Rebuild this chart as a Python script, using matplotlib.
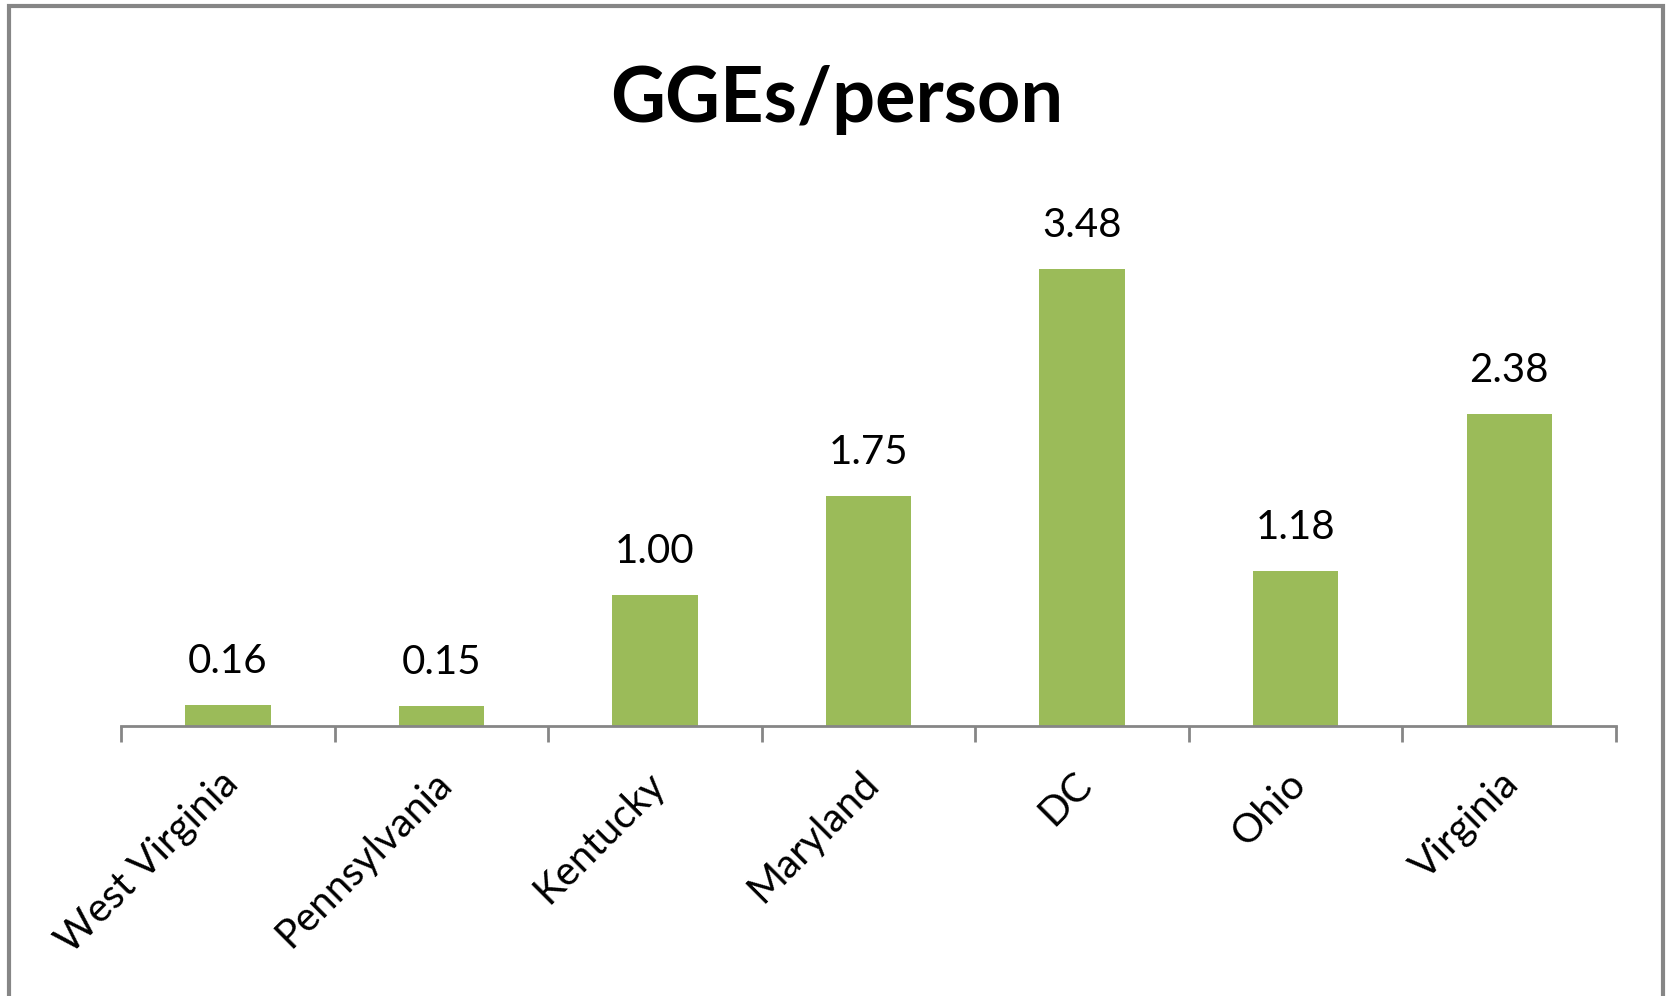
import matplotlib.pyplot as plt
import numpy as np
from matplotlib.patches import Rectangle
import matplotlib.transforms as mtransforms

# values
states = ['West Virginia', 'Pennsylvania', 'Kentucky', 'Maryland', 'DC', 'Ohio', 'Virginia']
gge_per_person = [0.16, 0.15, 1.00, 1.75, 3.48, 1.18, 2.38]

plt.rcParams['font.family'] = ['Lato', 'DejaVu Sans']

fig = plt.figure(figsize=(16.67, 9.96), dpi=100)
ax = fig.add_axes([121 / 1667, 1 - 726 / 996, (1616 - 121) / 1667, 4 * 131.3 / 996])

x = np.arange(len(states))
bars = ax.bar(x, gge_per_person, width=0.4, color='#9BBB59', zorder=2)

ax.set_xlim(-0.5, len(states) - 0.5)
ax.set_ylim(0, 4)

for xi, v in zip(x, gge_per_person):
    ax.annotate(f'{v:.2f}', (xi, v), xytext=(0, 23), textcoords='offset points',
                ha='center', va='baseline', fontsize=29, color='black')

for s in ['top', 'right', 'left']:
    ax.spines[s].set_visible(False)
ax.spines['bottom'].set_color('#868686')
ax.spines['bottom'].set_linewidth(2)
ax.set_yticks([])

# category labels at centres, tick marks on the boundaries (Excel style)
ax.set_xticks(x)
ax.set_xticklabels(states, rotation=45, ha='right', va='top', fontsize=29)
ax.tick_params(axis='x', which='major', length=0, pad=28)
ax.set_xticks(np.arange(-0.5, len(states)), minor=True)
ax.tick_params(axis='x', which='minor', length=11.5, width=2, color='#868686')
shift = mtransforms.ScaledTranslation(17 / 100, 0, fig.dpi_scale_trans)
for lab in ax.get_xticklabels():
    lab.set_transform(lab.get_transform() + shift)

fig.text(837 / 1667, 1 - 122 / 996, 'GGEs/person', ha='center', va='baseline',
         fontsize=54.5, fontweight='bold')

# chart frame
fig.patches.append(Rectangle((9 / 1667, -0.1), (1663 - 9) / 1667, 1.1 - 6 / 996,
                             transform=fig.transFigure, fill=False,
                             edgecolor='#868686', linewidth=3))

fig.savefig('out.png', dpi=100)
